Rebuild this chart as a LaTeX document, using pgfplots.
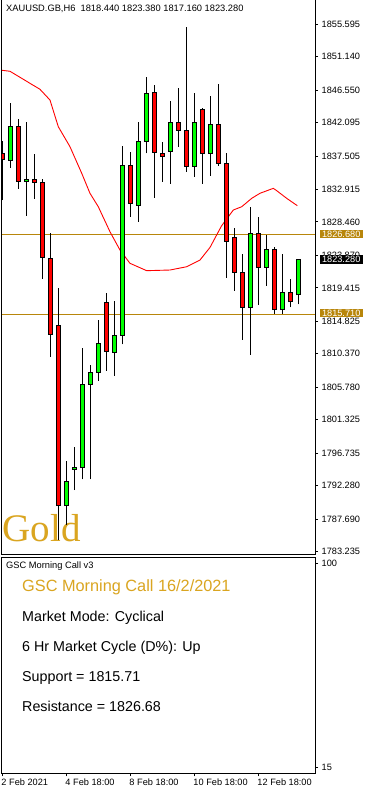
\documentclass[border=0pt]{standalone}
\usepackage{pgfplots}
\pgfplotsset{compat=1.18}
\usepackage{pgfplotstable}
\usepackage{fontspec}
\setmainfont{Liberation Sans}
\newfontfamily\goldfont{Liberation Serif}
\definecolor{cgreen}{RGB}{0,255,0}
\definecolor{cred}{RGB}{255,0,0}
\definecolor{dgold}{RGB}{184,134,11}
\definecolor{gold}{RGB}{218,165,32}

% up (bullish) candles
\pgfplotstableread{
i O H L C
2 1836.90 1844.72 1835.89 1841.57
4 1834.02 1842.16 1829.31 1834.30
9 1789.54 1795.67 1786.89 1792.89
10 1794.53 1797.59 1791.69 1794.85
11 1794.75 1811.21 1793.16 1806.23
12 1806.19 1808.83 1793.16 1807.83
13 1807.83 1815.00 1806.68 1811.81
15 1810.58 1817.61 1807.37 1812.91
16 1812.91 1838.87 1811.67 1836.22
18 1830.73 1842.16 1828.48 1839.51
19 1839.51 1848.33 1837.86 1846.09
22 1838.14 1845.04 1833.70 1842.12
25 1836.08 1846.13 1834.66 1842.12
27 1837.86 1845.72 1834.79 1841.84
32 1816.75 1830.50 1810.25 1826.89
34 1822.23 1826.62 1819.71 1824.70
36 1816.42 1824.06 1815.87 1818.80
38 1818.44 1823.38 1817.16 1823.28
}\upc

% down (bearish) candles
\pgfplotstableread{
i O H L C
1 1837.86 1839.55 1831.46 1836.95
3 1841.57 1842.57 1832.97 1834.02
5 1834.30 1837.77 1831.60 1833.89
6 1833.89 1834.38 1820.67 1823.60
7 1823.47 1826.89 1809.97 1812.99
8 1814.28 1819.35 1784.84 1789.54
14 1817.34 1818.75 1808.05 1810.71
17 1836.22 1838.04 1829.17 1831.01
20 1846.23 1847.23 1831.78 1838.00
21 1837.86 1839.41 1833.97 1837.45
23 1842.12 1846.78 1838.77 1841.02
24 1841.02 1855.18 1835.34 1836.08
26 1843.90 1844.04 1833.70 1837.86
28 1841.84 1847.37 1836.16 1836.49
29 1836.49 1837.86 1820.81 1825.80
30 1826.35 1827.62 1819.02 1821.55
31 1821.55 1824.06 1812.30 1816.75
33 1826.89 1829.13 1817.10 1822.23
35 1824.70 1824.97 1815.87 1816.42
37 1818.80 1820.59 1816.75 1817.51
}\downc

\pgfplotsset{
  wick/.style={draw=none, mark=none, forget plot,
    error bars/.cd, y dir=plus, y explicit, error mark=none,
    error bar style={draw=black, line width=1pt}},
  bodyout/.style={draw=none, mark=none, forget plot,
    error bars/.cd, y dir=plus, y explicit, error mark=none,
    error bar style={draw=black, line width=5pt, shorten <=-0.5pt, shorten >=-0.5pt}},
  bodyin/.style={draw=none, mark=none, forget plot,
    error bars/.cd, y dir=plus, y explicit, error mark=none,
    error bar style={draw=#1, line width=3pt, shorten <=0.5pt, shorten >=0.5pt}},
}

\begin{document}
\begin{tikzpicture}
\fill[white] (0,0) rectangle (365pt,-791pt);
\useasboundingbox (0,0) rectangle (365pt,-791pt);

\node[anchor=base west, inner sep=0pt, text=gold, font=\goldfont\fontsize{39pt}{40pt}\selectfont] at (2.5pt,-541.7pt) {Gold};

\begin{axis}[
  at={(2pt,-554pt)}, anchor=south west,
  scale only axis, width=313pt, height=554pt,
  xmin=0.9625, xmax=40.09, ymin=1782.92, ymax=1858.886,
  axis line style={line width=1pt},
  xtick=\empty,
  ytick={1855.595,1851.140,1846.550,1842.095,1837.505,1832.915,1828.460,1823.870,1819.415,1814.825,1810.370,1805.780,1801.325,1796.735,1792.280,1787.690,1783.235},
  yticklabels={1855.595,1851.140,1846.550,1842.095,1837.505,1832.915,1828.460,1823.870,1819.415,1814.825,1810.370,1805.780,1801.325,1796.735,1792.280,1787.690,1783.235},
  ytick pos=right, yticklabel pos=right,
  tick align=outside, major tick length=3pt,
  tick style={black, line width=0.8pt},
  yticklabel style={font=\fontsize{9.2pt}{10pt}\selectfont, anchor=west, inner sep=0pt, xshift=3.5pt},
]
% support / resistance
\addplot[dgold, line width=1pt, forget plot] coordinates {(0.9625,1826.68) (40.09,1826.68)};
\addplot[dgold, line width=1pt, forget plot] coordinates {(0.9625,1815.71) (40.09,1815.71)};
% moving average
\addplot[cred, line width=0.9pt, mark=none] coordinates {
(0.96,1849.25) (1.96,1849.11) (3.21,1848.29) (4.46,1847.46) (5.71,1846.64)
(6.96,1845.17) (8.0,1841.51) (9.46,1838.77) (10.93,1835.12) (11.96,1832.38)
(13.0,1830.54) (14.46,1827.11) (15.71,1824.60) (16.96,1822.78) (19.05,1821.77)
(21.96,1821.86) (24.05,1822.31) (25.71,1823.23) (26.96,1824.95) (28.4,1827.90)
(29.88,1830.09) (30.93,1830.54) (32.18,1831.69) (33.21,1832.38) (34.88,1833.06)
(35.3,1832.74) (36.55,1831.69) (37.88,1830.68)};
% wicks
\addplot[wick] table[x=i, y=L, y error plus expr=\thisrow{H}-\thisrow{L}] {\upc};
\addplot[wick] table[x=i, y=L, y error plus expr=\thisrow{H}-\thisrow{L}] {\downc};
% bodies
\addplot[bodyout] table[x=i, y=O, y error plus expr=\thisrow{C}-\thisrow{O}] {\upc};
\addplot[bodyout] table[x=i, y=C, y error plus expr=\thisrow{O}-\thisrow{C}] {\downc};
\addplot[bodyin=cgreen] table[x=i, y=O, y error plus expr=\thisrow{C}-\thisrow{O}] {\upc};
\addplot[bodyin=cred] table[x=i, y=C, y error plus expr=\thisrow{O}-\thisrow{C}] {\downc};
\end{axis}

\begin{axis}[
  at={(2pt,-773.3pt)}, anchor=south west,
  scale only axis, width=313pt, height=216.3pt,
  xmin=0.9625, xmax=40.09, ymin=12.37, ymax=102.63,
  axis line style={line width=1pt},
  xtick={1,9,17,25,33},
  xticklabels={2 Feb 2021,4 Feb 18:00,8 Feb 18:00,10 Feb 18:00,12 Feb 18:00},
  ytick={15,100}, yticklabels={15,100},
  xtick pos=bottom, ytick pos=right, yticklabel pos=right,
  tick align=outside, major tick length=3pt,
  tick style={black, line width=0.8pt},
  yticklabel style={font=\fontsize{9.2pt}{10pt}\selectfont, anchor=west, inner sep=0pt, xshift=3.5pt},
  xticklabel style={font=\fontsize{9.2pt}{10pt}\selectfont, anchor=north west, inner sep=0pt, xshift=-1pt, yshift=-2pt},
]
\addplot[draw=none, mark=none, forget plot] coordinates {(1,50)};
\end{axis}

% header
\node[anchor=base west, inner sep=0pt, font=\fontsize{9.3pt}{11pt}\selectfont] at (6pt,-11.7pt) {XAUUSD.GB,H6\ \ 1818.440 1823.380 1817.160 1823.280};

% price labels
\node[fill=dgold, text=white, anchor=west, inner sep=0pt, minimum width=43.4pt, minimum height=8.4pt, font=\fontsize{9.2pt}{10pt}\selectfont] at (319.3pt,-234.2pt) {1826.680};
\node[fill=black, text=white, anchor=west, inner sep=0pt, minimum width=43.4pt, minimum height=9pt, font=\fontsize{9.2pt}{10pt}\selectfont] at (319.3pt,-259.2pt) {1823.280};
\node[fill=dgold, text=white, anchor=west, inner sep=0pt, minimum width=43.4pt, minimum height=8.4pt, font=\fontsize{9.2pt}{10pt}\selectfont] at (319.3pt,-313.2pt) {1815.710};

% indicator panel text
\node[anchor=base west, inner sep=0pt, font=\fontsize{9.3pt}{11pt}\selectfont] at (6pt,-568.7pt) {GSC Morning Call v3};
\node[anchor=base west, inner sep=0pt, text=gold, font=\fontsize{16.3pt}{18pt}\selectfont] at (22pt,-591.7pt) {GSC Morning Call 16/2/2021};
\node[anchor=base west, inner sep=0pt, font=\fontsize{14.3pt}{16pt}\selectfont] at (22pt,-621.3pt) {Market Mode: Cyclical};
\node[anchor=base west, inner sep=0pt, font=\fontsize{14.3pt}{16pt}\selectfont] at (22pt,-651.3pt) {6 Hr Market Cycle (D\%): Up};
\node[anchor=base west, inner sep=0pt, font=\fontsize{14.3pt}{16pt}\selectfont] at (22pt,-681.3pt) {Support = 1815.71};
\node[anchor=base west, inner sep=0pt, font=\fontsize{14.3pt}{16pt}\selectfont] at (22pt,-711.3pt) {Resistance = 1826.68};
\end{tikzpicture}
\end{document}
